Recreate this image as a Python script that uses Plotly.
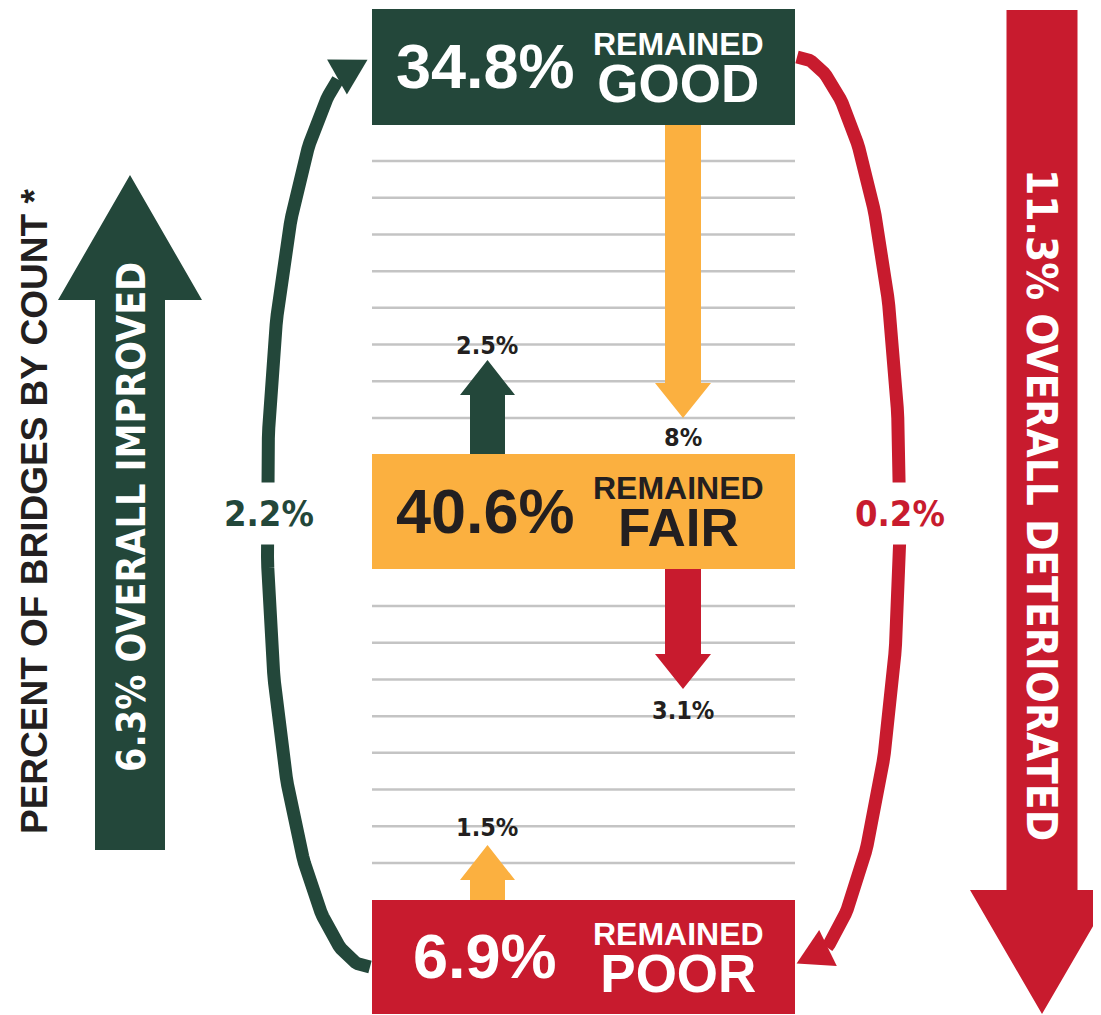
import numpy as np
import plotly.graph_objects as go

# share of bridges that stayed in the same condition (%)
conditions = ["GOOD", "FAIR", "POOR"]
remained = [34.8, 40.6, 6.9]

# moves between neighbouring conditions (%)
fair_to_good = 2.5
good_to_fair = 8
fair_to_poor = 3.1
poor_to_fair = 1.5

# jumps across two conditions (%)
poor_to_good = 2.2
good_to_poor = 0.2

overall_improved = 6.3
overall_deteriorated = 11.3

GREEN = "#23473a"
ORANGE = "#fbb040"
RED = "#c81b2e"
DARK = "#231f20"
GRID = "#c4c4c4"

BOLD = "Liberation Sans, Arial, sans-serif"
NARROW = "DejaVu Sans Condensed, Liberation Sans Narrow, sans-serif"

W, H = 1101, 1015
PAGE_OFFSET = 8  # body margin of the html page
BOX_X0, BOX_X1 = 372, 795
box_rows = [(9, 125), (454, 569), (900, 1014)]
box_fill = [GREEN, ORANGE, RED]
box_font = ["white", DARK, "white"]


def pct(v):
    return f"{v:g}%"


def path_of(points):
    return "M " + " L ".join(f"{x:.1f},{y:.1f}" for x, y in points) + " Z"


def straight_arrow(xc, y_start, y_tip, shaft_w, head_w, head_len, color):
    d = np.sign(y_tip - y_start)
    yb = y_tip - d * head_len
    pts = [(xc - shaft_w / 2, y_start), (xc - shaft_w / 2, yb),
           (xc - head_w / 2, yb), (xc, y_tip), (xc + head_w / 2, yb),
           (xc + shaft_w / 2, yb), (xc + shaft_w / 2, y_start)]
    return dict(type="path", path=path_of(pts), fillcolor=color,
                line={'width': 0}, xref="x", yref="y")


def head(base, direction, length, half_w, color):
    bx, by = base
    ux, uy = np.array(direction) / np.hypot(*direction)
    px, py = -uy, ux
    pts = [(bx + px * half_w, by + py * half_w), (bx + ux * length, by + uy * length),
           (bx - px * half_w, by - py * half_w)]
    return dict(type="path", path=path_of(pts), fillcolor=color,
                line={'width': 0}, xref="x", yref="y")


shapes = []
annotations = []

# gridlines between the boxes
for y in list(np.linspace(161, 418, 8)) + list(np.linspace(606, 863, 8)):
    shapes.append(dict(type="line", x0=BOX_X0, x1=BOX_X1, y0=y, y1=y,
                       line={'color': GRID, 'width': 2.5}))

# boxes
for (y0, y1), fill in zip(box_rows, box_fill):
    shapes.append(dict(type="rect", x0=BOX_X0, x1=BOX_X1, y0=y0, y1=y1,
                       fillcolor=fill, line={'width': 0}))

# small arrows between neighbouring boxes
shapes.append(straight_arrow(683, 125, 418, 36, 56, 35, ORANGE))
shapes.append(straight_arrow(487.5, 454, 360, 35, 55, 35, GREEN))
shapes.append(straight_arrow(683, 569, 689, 36, 56, 35, RED))
shapes.append(straight_arrow(487.5, 900, 845, 35, 55, 35, ORANGE))

# big overall arrows
shapes.append(straight_arrow(130, 850, 175, 70, 144, 125, GREEN))
shapes.append(straight_arrow(1042, 10, 1014, 71, 144, 124, RED))

fig = go.Figure()

# curved jump arrows (half ellipses beside the boxes)
t = np.linspace(0.0, np.pi - np.arcsin(32 / 103), 120)
fig.add_trace(go.Scatter(x=370 - 103 * np.sin(t), y=512 + 455 * np.cos(t),
                         mode="lines", line={'color': GREEN, 'width': 13},
                         hoverinfo="skip", showlegend=False))
shapes.append(head((337, 77), (30, -17), 35, 20, GREEN))

t = np.linspace(0.0, np.pi - np.arcsin(30 / 103), 120)
fig.add_trace(go.Scatter(x=797 + 103 * np.sin(t), y=512 - 455 * np.cos(t),
                         mode="lines", line={'color': RED, 'width': 13},
                         hoverinfo="skip", showlegend=False))
shapes.append(head((828, 948), (-30.5, 15), 35, 20, RED))

# box texts
for (y0, y1), name, value, col in zip(box_rows, conditions, remained, box_font):
    yc = (y0 + y1) / 2
    annotations.append(dict(x=485, y=yc - 1, text=pct(value), showarrow=False,
                            font={'family': BOLD, 'size': 63, 'color': col, 'weight': 700}))
    annotations.append(dict(x=678, y=yc + 2, showarrow=False, borderpad=0,
                            text=("<span style='font-size:32px'>REMAINED</span><br>"
                                  f"<span style='font-size:53px'>{name}</span>"),
                            font={'family': BOLD, 'size': 36, 'color': col, 'weight': 700}))

# small arrow labels
for x, y, v in [(487, 345, fair_to_good), (683, 437, good_to_fair),
                (683, 710, fair_to_poor), (487, 827, poor_to_fair)]:
    annotations.append(dict(x=x, y=y, text=pct(v), showarrow=False,
                            font={'family': NARROW, 'size': 25, 'color': DARK, 'weight': 700}))

# jump labels, with white behind to break the curve
annotations.append(dict(x=269, y=513, text=pct(poor_to_good), showarrow=False,
                        bgcolor="white", borderpad=10,
                        font={'family': NARROW, 'size': 36, 'color': GREEN, 'weight': 700}))
annotations.append(dict(x=900, y=513, text=pct(good_to_poor), showarrow=False,
                        bgcolor="white", borderpad=10,
                        font={'family': NARROW, 'size': 36, 'color': RED, 'weight': 700}))

# rotated texts
annotations.append(dict(x=34, y=512, text="PERCENT OF BRIDGES BY COUNT *",
                        showarrow=False, textangle=-90,
                        font={'family': BOLD, 'size': 37, 'color': DARK, 'weight': 700}))
annotations.append(dict(x=131, y=517, text=f"{overall_improved:g}% OVERALL IMPROVED",
                        showarrow=False, textangle=-90,
                        font={'family': NARROW, 'size': 39, 'color': "white", 'weight': 700}))
annotations.append(dict(x=1042, y=505, text=f"{overall_deteriorated:g}% OVERALL DETERIORATED",
                        showarrow=False, textangle=90,
                        font={'family': NARROW, 'size': 42, 'color': "white", 'weight': 700}))

fig.update_layout(
    width=W,
    height=H,
    margin={'l': 0, 'r': 0, 't': 0, 'b': 0},
    paper_bgcolor="white",
    plot_bgcolor="white",
    xaxis={'range': [PAGE_OFFSET, W + PAGE_OFFSET], 'visible': False, 'fixedrange': True},
    yaxis={'range': [H + PAGE_OFFSET, PAGE_OFFSET], 'visible': False, 'fixedrange': True},
    shapes=shapes,
    annotations=annotations,
    showlegend=False,
)

fig.write_html("out.html")
